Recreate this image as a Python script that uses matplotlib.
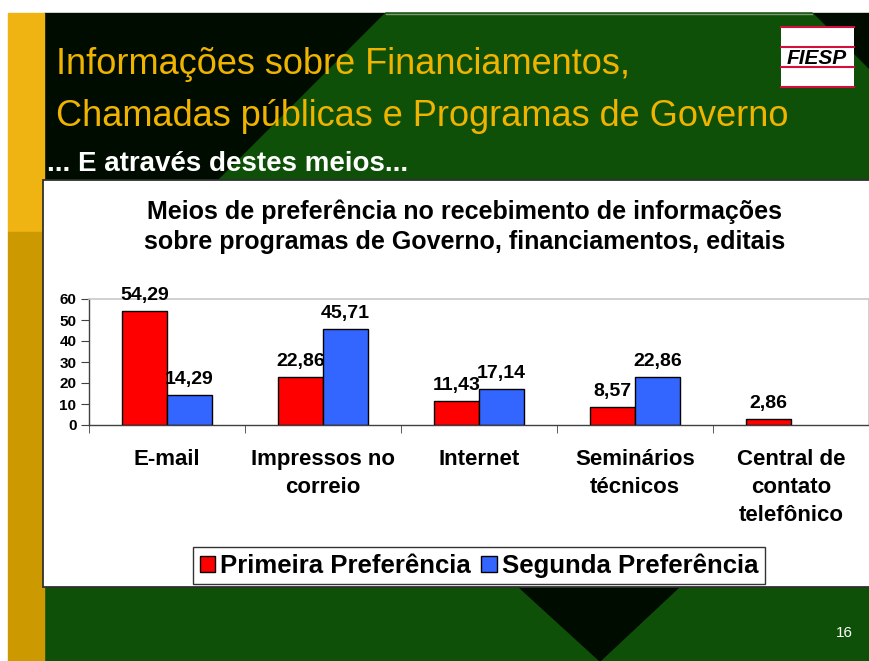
import numpy as np
import matplotlib.pyplot as plt
from matplotlib.patches import Rectangle, Polygon

# Dados do grafico
categorias = ['E-mail', 'Impressos no\ncorreio', 'Internet', 'Seminários\ntécnicos',
              'Central de\ncontato\ntelefônico']
primeira = [54.29, 22.86, 11.43, 8.57, 2.86]
segunda = [14.29, 45.71, 17.14, 22.86, None]
y_ticks = [0, 10, 20, 30, 40, 50, 60]
series = ['Primeira Preferência', 'Segunda Preferência']

W, H = 870, 661
plt.rcParams['font.family'] = ['Liberation Sans', 'DejaVu Sans']
fig = plt.figure(figsize=(8.7, 6.61), dpi=100, facecolor='white')

# fundo do slide, em pixels
bg = fig.add_axes([0, 0, 1, 1])
bg.set_xlim(0, W)
bg.set_ylim(H, 0)
bg.axis('off')

GREEN = '#0f5008'
DARK = '#000c00'
bg.add_patch(Rectangle((44, 13), W - 44, 167, color=DARK))
bg.add_patch(Polygon([(386, 13), (812, 13), (870, 71), (870, 180), (219, 180)], color=GREEN))
bg.plot([386, 812], [13.5, 13.5], color='#7a9a70', lw=1)
bg.add_patch(Rectangle((44, 587), W - 44, H - 587, color=GREEN))
bg.add_patch(Polygon([(519, 587), (679, 587), (600, 661)], color=DARK))
bg.add_patch(Rectangle((8, 13), 36, 219, color='#f0b412'))
bg.add_patch(Rectangle((8, 232), 36, H - 232, color='#cc9900'))
bg.add_patch(Rectangle((43, 180), W - 43, 407, facecolor='white', edgecolor='#303030', lw=1.3))

# logo FIESP
bg.add_patch(Rectangle((781, 27), 73, 60, facecolor='white', edgecolor='none'))
for yy in [27, 47, 67, 87]:
    bg.plot([781, 854], [yy, yy], color='#d0103a', lw=1.5)
bg.text(817, 58, 'FIESP', fontsize=15, fontweight='bold', style='italic',
        ha='center', va='center', color='black')

YELLOW = '#f0b400'
bg.text(56, 65, 'Informações sobre Financiamentos,', fontsize=26, color=YELLOW, va='center')
bg.text(56, 117, 'Chamadas públicas e Programas de Governo', fontsize=26, color=YELLOW, va='center')
bg.text(47, 164, '... E através destes meios...', fontsize=20, fontweight='bold',
        color='white', va='center')
bg.text(465, 227, 'Meios de preferência no recebimento de informações\n'
        'sobre programas de Governo, financiamentos, editais',
        fontsize=18, fontweight='bold', ha='center', va='center', linespacing=1.3)
bg.text(844, 633, '16', fontsize=11, color='white', ha='center', va='center')

# grafico de barras
ax = fig.add_axes([89 / W, 1 - 425 / H, 780 / W, 126 / H])
x = np.arange(len(categorias))
bw = 45 / 156
ax.bar(x - bw / 2, primeira, bw, color='#ff0000', edgecolor='black', lw=1, label=series[0])
seg_x = [xi + bw / 2 for xi, v in zip(x, segunda) if v is not None]
seg_v = [v for v in segunda if v is not None]
ax.bar(seg_x, seg_v, bw, color='#3366ff', edgecolor='black', lw=1, label=series[1])

for xi, v in zip(x - bw / 2, primeira):
    ax.annotate(f'{v:.2f}'.replace('.', ','), (xi, v), xytext=(0, 5), textcoords='offset points',
                ha='center', va='bottom', fontsize=14, fontweight='bold')
for xi, v in zip(seg_x, seg_v):
    ax.annotate(f'{v:.2f}'.replace('.', ','), (xi, v), xytext=(0, 5), textcoords='offset points',
                ha='center', va='bottom', fontsize=14, fontweight='bold')

ax.set_xlim(-0.5, len(categorias) - 0.5)
ax.set_ylim(0, 60)
ax.set_yticks(y_ticks)
ax.set_yticklabels([str(t) for t in y_ticks], fontsize=11, fontweight='bold')
ax.set_xticks(x)
ax.set_xticklabels(categorias, fontsize=16, fontweight='bold', linespacing=1.45, va='top')
ax.set_xticks(np.arange(-0.5, len(categorias)), minor=True)
ax.tick_params(axis='x', which='major', length=0, pad=17)
ax.tick_params(axis='x', which='minor', length=6, direction='out', color='#404040')
ax.tick_params(axis='y', length=6, direction='out', color='#404040', pad=3)
for s in ['top', 'right']:
    ax.spines[s].set_color('#c8c8c8')
    ax.spines[s].set_linewidth(1.2)
for s in ['left', 'bottom']:
    ax.spines[s].set_color('#404040')
    ax.spines[s].set_linewidth(1)
ax.set_facecolor('white')

leg = fig.legend(loc='center', bbox_to_anchor=(479 / W, 1 - 565.5 / H), ncol=2,
                 prop={'size': 18.5, 'weight': 'bold'}, frameon=True, fancybox=False,
                 edgecolor='black', handlelength=0.6, handleheight=0.6, handletextpad=0.2,
                 columnspacing=0.4, borderpad=0.25, borderaxespad=0)
leg.get_frame().set_linewidth(1)

fig.savefig('out.png', dpi=100, facecolor='white')
